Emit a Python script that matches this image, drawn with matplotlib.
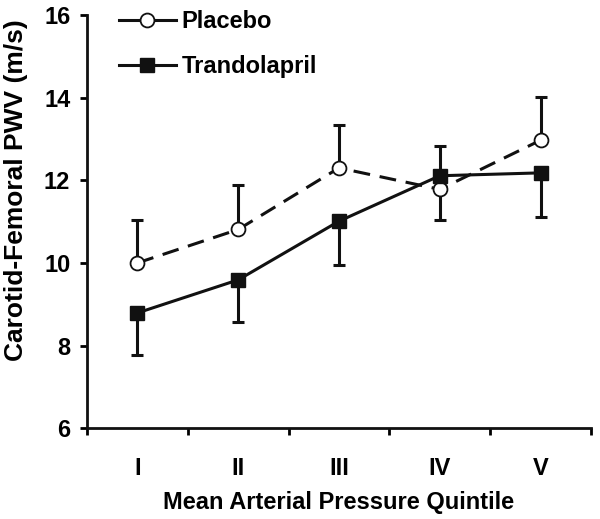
import matplotlib.pyplot as plt
import numpy as np
from matplotlib.lines import Line2D

plt.rcParams['font.family'] = ['Liberation Sans', 'DejaVu Sans']
plt.rcParams['font.weight'] = 'bold'

quintiles = ['I', 'II', 'III', 'IV', 'V']
placebo = [10.0, 10.81, 12.30, 11.78, 12.97]
placebo_err_lo = [0, 0, 0, 0.73, 0]
placebo_err_hi = [1.05, 1.07, 1.05, 0, 1.05]
trando = [8.79, 9.59, 11.01, 12.11, 12.18]
trando_err_lo = [1.03, 1.03, 1.05, 0, 1.06]
trando_err_hi = [0, 0, 0, 0.73, 0]

x = np.arange(1, len(quintiles) + 1)

fig = plt.figure(figsize=(6, 5.19), dpi=100)
ax = fig.add_axes([0.145, 0.175, 0.84, 0.796])

lw = 2.2
ink = '#111111'
# one-sided error bars
ax.errorbar(x, placebo, yerr=[placebo_err_lo, placebo_err_hi], fmt='none',
            ecolor=ink, elinewidth=lw, capsize=4, capthick=lw, zorder=2)
ax.errorbar(x, trando, yerr=[trando_err_lo, trando_err_hi], fmt='none',
            ecolor=ink, elinewidth=lw, capsize=4, capthick=lw, zorder=2)

ax.plot(x, placebo, color=ink, lw=lw, linestyle=(0, (5.5, 3.2)),
        marker='o', markersize=10, markerfacecolor='white',
        markeredgecolor=ink, markeredgewidth=1.3, zorder=3)
ax.plot(x, trando, color=ink, lw=lw, linestyle='-',
        marker='s', markersize=10, markerfacecolor=ink,
        markeredgecolor=ink, zorder=4)

ax.set_xlim(0.5, 5.5)
ax.set_ylim(6, 16)
ax.set_yticks([6, 8, 10, 12, 14, 16])
ax.set_xticks(np.arange(0.5, 5.6, 1.0))
ax.set_xticklabels([])
ax.set_xticks(x, minor=True)
ax.set_xticklabels(quintiles, minor=True)
ax.tick_params(axis='x', which='minor', length=0, pad=21, labelsize=17)
ax.tick_params(axis='x', which='major', length=5, width=2, direction='out')
ax.tick_params(axis='y', length=5, width=2, direction='out', labelsize=17, pad=7)

for s in ['top', 'right']:
    ax.spines[s].set_visible(False)
for s in ['left', 'bottom']:
    ax.spines[s].set_linewidth(2)
    ax.spines[s].set_color(ink)

ax.set_xlabel('Mean Arterial Pressure Quintile', fontsize=17, fontweight='bold', labelpad=8)
ax.set_ylabel('Carotid-Femoral PWV (m/s)', fontsize=19, fontweight='bold')
ax.yaxis.set_label_coords(-0.117, 0.576)

h1 = Line2D([], [], color=ink, lw=lw, marker='o', markersize=10,
            markerfacecolor='white', markeredgecolor=ink, markeredgewidth=1.3)
h2 = Line2D([], [], color=ink, lw=lw, marker='s', markersize=10,
            markerfacecolor=ink)
ax.legend([h1, h2], ['Placebo', 'Trandolapril'], loc='upper left',
          bbox_to_anchor=(0.045, 1.035), frameon=False, fontsize=17,
          handlelength=2.4, handletextpad=0.25, labelspacing=0.95,
          borderaxespad=0)

fig.savefig('out.png', dpi=100)
